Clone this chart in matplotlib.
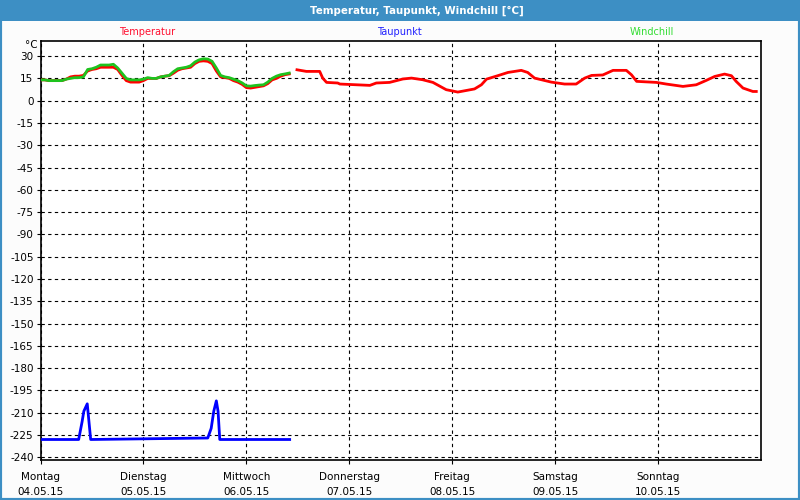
"""
Temperatur, Taupunkt, Windchill - Wochenverlauf
"""
import matplotlib
matplotlib.use('Agg')
import matplotlib.pyplot as plt
from matplotlib.patches import Rectangle

# day labels (tick at the start of each day)
day_names = ['Montag', 'Dienstag', 'Mittwoch', 'Donnerstag', 'Freitag', 'Samstag', 'Sonntag']
day_dates = ['04.05.15', '05.05.15', '06.05.15', '07.05.15', '08.05.15', '09.05.15', '10.05.15']

# temperature, first block (hours since Montag 00:00)
temp1_hours = list(range(0, 59))
temp1_vals = [14, 14, 13.5, 13.5, 13.5, 13.5, 14.5, 16, 16.5, 16.5, 17, 20, 21, 21.5,
              22.5, 22.5, 22.5, 22.5, 21, 17, 13.5, 12.5, 12.5, 12.5,
              13.5, 15, 15, 15, 16, 16.5, 16.8, 18.5, 20.5, 21.5, 22, 22.5, 25, 26.5,
              26.8, 26.5, 25, 20, 16, 15.5, 15, 13.5, 12.5, 11,
              8.8, 8.5, 9, 9.5, 10, 11.5, 14, 15, 16.5, 17.5, 18]

# temperature, second block
temp2_hours = [59.8, 62, 65.1, 65.8, 66.7, 69.3, 69.8, 76.8, 78.3, 81.4, 84.5, 86.5, 89.1,
               91.5, 94.6, 97.3, 101.2, 102.8, 104, 106.6, 109, 112.1, 113.6, 115.2,
               119.1, 122.2, 124.9, 126.9, 128.5, 131.1, 133.5, 136.6, 137.8, 139,
               143.6, 145.9, 149.8, 152.9, 155.2, 157.2, 159.5, 161.1, 162.2, 163.8,
               166.1, 166.9]
temp2_vals = [20.8, 19.7, 19.7, 15.2, 12.3, 11.9, 11.2, 10.3, 11.9, 12.3, 14.6, 15.2, 14.1,
              12.3, 7.4, 5.8, 7.9, 10.7, 14.5, 16.8, 19, 20.4, 19, 15.2,
              12.5, 11.2, 11.2, 15.2, 17, 17.3, 20.4, 20.4, 17.4, 13,
              12.3, 11.2, 9.6, 10.7, 13.6, 16.3, 17.9, 16.8, 13, 8.5,
              6.2, 6.2]

# windchill (only first block)
wind_hours = list(range(0, 59))
wind_vals = [14, 14, 13.5, 13.5, 13.5, 13.5, 14.5, 15, 15.5, 15.5, 16, 21, 21.5, 22.5,
             24, 24, 24, 24.5, 22, 18.5, 15, 14, 14, 14,
             14.5, 15.5, 15, 15, 16, 16.5, 17, 19.5, 21.5, 22, 22.5, 23.5, 26, 27.5,
             28.2, 28, 26.5, 22, 17, 16, 15.5, 14.5, 13.5, 12,
             10, 9.8, 10.2, 10.5, 10.7, 12.5, 15, 16.5, 17.5, 18, 18.6]

# dew point
dew_hours = [0, 8.9, 9.7, 10.1, 10.9, 11.3, 11.7, 39.0, 39.8, 40.4, 41.0, 41.4, 41.8, 58.1]
dew_vals = [-228, -228, -216, -209, -204, -216, -228, -227, -220.5, -209, -202, -209, -228, -228]

y_ticks = list(range(30, -241, -15))

RED = '#ff0000'
GREEN = '#1ec31e'
BLUE = '#0000ff'
BAR = '#3d8fc4'

plt.rcParams['font.family'] = ['DejaVu Sans']
fig = plt.figure(figsize=(8, 5), dpi=100, facecolor='#fcfcfc')

# window frame and title bar
fig.add_artist(Rectangle((0, 0), 1, 1, transform=fig.transFigure, fill=False,
                         edgecolor=BAR, lw=3, zorder=0))
fig.add_artist(Rectangle((0, 1 - 21 / 500), 1, 21 / 500, transform=fig.transFigure,
                         facecolor=BAR, edgecolor='none', zorder=1))
fig.text(417 / 800, 1 - 10.5 / 500, 'Temperatur, Taupunkt, Windchill [°C]', color='white',
         fontsize=7.4, fontweight='bold', ha='center', va='center')

# series names
fig.text(147 / 800, 1 - 32 / 500, 'Temperatur', color='#ff1030', fontsize=7, ha='center', va='center')
fig.text(399 / 800, 1 - 32 / 500, 'Taupunkt', color='#2020ff', fontsize=7, ha='center', va='center')
fig.text(652 / 800, 1 - 32 / 500, 'Windchill', color='#33dd33', fontsize=7, ha='center', va='center')
fig.text(31 / 800, 1 - 45 / 500, '°C', color='black', fontsize=7.5, ha='center', va='center')

ax = fig.add_axes([40.5 / 800, 40 / 500, 720.5 / 800, 419.5 / 500])
ax.set_facecolor('white')

ax.plot([h / 24 for h in temp1_hours], temp1_vals, '-', color=RED, lw=2, zorder=3)
ax.plot([h / 24 for h in temp2_hours], temp2_vals, '-', color=RED, lw=2, zorder=3)
ax.plot([h / 24 for h in wind_hours], wind_vals, '-', color=GREEN, lw=2, zorder=4)
ax.plot([h / 24 for h in dew_hours], dew_vals, '-', color=BLUE, lw=2, zorder=3)

ax.set_xlim(0, 7)
ax.set_ylim(-241.8, 40.5)
ax.set_yticks(y_ticks)
ax.set_yticklabels([str(v) for v in y_ticks], fontsize=7.5)
ax.set_xticks(range(0, 7))
ax.set_xticklabels(['%s\n%s' % (n, d) for n, d in zip(day_names, day_dates)],
                   fontsize=7.5, linespacing=1.6)
ax.tick_params(axis='both', direction='out', length=3, width=0.8, pad=2)
ax.tick_params(axis='x', pad=6)

ax.grid(True, color='black', linestyle=(0, (3, 3)), lw=0.8)
for s in ax.spines.values():
    s.set_color('black')
    s.set_linewidth(1.2)

plt.savefig('out.png', dpi=100, facecolor=fig.get_facecolor())
